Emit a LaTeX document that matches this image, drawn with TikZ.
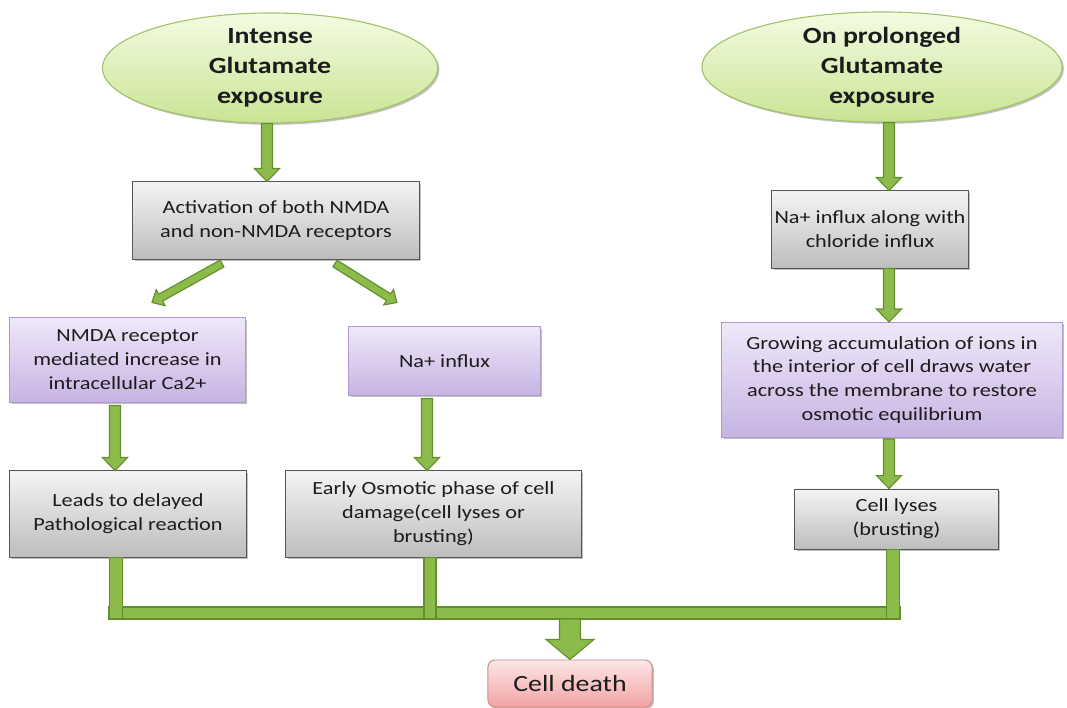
\documentclass[tikz,border=0pt]{standalone}
\usepackage{fontspec}
\setmainfont{Carlito}[FakeStretch=1.2]
\usetikzlibrary{calc,shapes.geometric,shadows}
\definecolor{arrF}{HTML}{8CBB4B}
\definecolor{arrD}{HTML}{618F2C}
\definecolor{txt}{HTML}{1C1C1C}
\definecolor{gTop}{HTML}{F4F4F4}
\definecolor{gBot}{HTML}{BDBDBD}
\definecolor{gLine}{HTML}{555555}
\definecolor{pTop}{HTML}{EFE8F9}
\definecolor{pBot}{HTML}{C7B3E3}
\definecolor{pLine}{HTML}{AE9ACF}
\definecolor{eTop}{HTML}{F4FBE2}
\definecolor{eBot}{HTML}{C9E494}
\definecolor{eLine}{HTML}{A2C36A}
\definecolor{rTop}{HTML}{FDE6E6}
\definecolor{rBot}{HTML}{F2A3A3}
\definecolor{rLine}{HTML}{D58A8A}
\newcommand\barrow[5]{%
  \path[arrowbody] let \p1=#1, \p2=#2,
    \n1={atan2(\y2-\y1,\x2-\x1)},
    \n2={veclen(\x2-\x1,\y2-\y1)-#5} in
    ($(\p1)+(\n1+90:#3)$) -- ($(\p1)+(\n1:\n2)+(\n1+90:#3)$)
    -- ($(\p1)+(\n1:\n2)+(\n1+90:#4)$) -- (\p2)
    -- ($(\p1)+(\n1:\n2)+(\n1-90:#4)$) -- ($(\p1)+(\n1:\n2)+(\n1-90:#3)$)
    -- ($(\p1)+(\n1-90:#3)$) -- cycle;}
\newcommand\sarrow[2]{\barrow{#1}{#2}{3.9pt}{8.9pt}{9.2pt}}
\newcommand\darrow[2]{\barrow{#1}{#2}{2.8pt}{6.5pt}{7pt}}
\begin{document}
\begin{tikzpicture}[x=0.025cm,y=-0.025cm,
  arrowbody/.style={fill=arrF,draw=arrD,line width=0.8pt,line join=miter},
  bar/.style={fill=arrF,draw=arrD,line width=0.8pt},
  boxfont/.style={font=\fontsize{13.2}{17}\selectfont},
  shadowed/.style={drop shadow={shadow xshift=1.3pt,shadow yshift=-1.3pt,opacity=0.35,fill=black!70}},
  gbox/.style={rectangle,draw=gLine,line width=0.7pt,top color=gTop,bottom color=gBot,
    align=center,text=txt,inner sep=2pt,boxfont,shadowed},
  pbox/.style={rectangle,draw=pLine,line width=0.7pt,top color=pTop,bottom color=pBot,
    align=center,text=txt,inner sep=2pt,boxfont,shadowed},
  ell/.style={ellipse,draw=eLine,line width=0.8pt,top color=eTop,bottom color=eBot,inner sep=0pt,shadowed},
  elltext/.style={align=center,text=txt,font=\bfseries\fontsize{16.5}{21.3}\selectfont},
  death/.style={rectangle,rounded corners=5pt,draw=rLine,line width=0.7pt,top color=rTop,bottom color=rBot,
    align=center,text=txt,font=\fontsize{16.5}{20}\selectfont,shadowed}]
\useasboundingbox (0,0) rectangle (1067,708);

% ellipses
\node[ell,minimum width=8.375cm,minimum height=2.75cm] (E1) at (270,68) {};
\node[elltext] (E1t) at (E1.center) {Intense\\Glutamate\\exposure};
\node[ell,minimum width=9.0cm,minimum height=2.75cm] (E2) at (882,67) {};
\node[elltext] (E2t) at (E2.center) {On prolonged\\Glutamate\\exposure};

% boxes
\node[gbox,minimum width=7.15cm,minimum height=1.925cm] (A) at (276,220.5) {Activation of both NMDA\\and non-NMDA receptors};
\node[gbox,minimum width=4.7cm,minimum height=1.925cm] (B) at (870,229.5) {Na+ influx along with\\chloride influx};
\node[pbox,minimum width=5.875cm,minimum height=2.1cm] (C) at (127.5,360) {NMDA receptor\\mediated increase in\\intracellular Ca2+};
\node[pbox,minimum width=4.775cm,minimum height=1.7cm] (D) at (444.5,361) {Na+ influx};
\node[pbox,minimum width=8.5cm,minimum height=2.875cm] (E) at (892,380) {Growing accumulation of ions in\\the interior of cell draws water\\across the membrane to restore\\osmotic equilibrium};
\node[gbox,minimum width=5.9cm,minimum height=2.15cm] (F) at (128,514) {Leads to delayed\\Pathological reaction};
\node[gbox,minimum width=7.375cm,minimum height=2.15cm] (G) at (433.5,514) {Early Osmotic phase of cell\\damage(cell lyses or\\brusting)};
\node[gbox,minimum width=5.075cm,minimum height=1.5cm] (H) at (896.5,519) {Cell lyses\\(brusting)};
\node[death,minimum width=4.1cm,minimum height=1.175cm] (I) at (570,683.5) {Cell death};

% helper coordinates
\coordinate (e1s) at ($(E1.south)+(-3,0)$);
\coordinate (e2s) at ($(E2.south)+(7,0)$);
\coordinate (bs) at (e2s |- B.south);
\coordinate (ac1) at ($(A.south)+(-54,4)$);
\coordinate (ac2) at ($(C.north)+(24.5,-15)$);
\coordinate (ad1) at ($(A.south)+(59,4)$);
\coordinate (ad2) at ($(D.north)+(-47.5,-24)$);
\coordinate (cs) at ($(C.south)+(-12.5,3)$);
\coordinate (ds) at ($(D.south)+(-17.5,3)$);
\coordinate (es) at ($(E.south)+(-3,1)$);

% arrows
\sarrow{(e1s)}{(e1s |- A.north)}
\sarrow{(e2s)}{(e2s |- B.north)}
\darrow{(ac1)}{(ac2)}
\darrow{(ad1)}{(ad2)}
\sarrow{(bs)}{(bs |- E.north)}
\sarrow{(cs)}{(cs |- F.north)}
\sarrow{(ds)}{(ds |- G.north)}
\sarrow{(es)}{(es |- H.north)}

% collecting bar
\coordinate (barT) at (0,607);
\coordinate (barB) at (0,619);
\coordinate (fL) at ($(F.south)+(-12,0)$);
\coordinate (gL) at ($(G.south)+(-3.5,0)$);
\coordinate (hL) at ($(H.south)+(-3.5,0)$);
\draw[bar] ($(fL |- barT)+(-7,0)$) rectangle ($(hL |- barB)+(7,0)$);
\draw[bar] ($(fL)+(-6.5,0)$) rectangle ($(fL |- barB)+(6.5,0)$);
\draw[bar] ($(gL)+(-6,0)$) rectangle ($(gL |- barB)+(6,0)$);
\draw[bar] ($(hL)+(-6.5,0)$) rectangle ($(hL |- barB)+(6.5,0)$);
\barrow{(I.north |- barB)}{(I.north)}{7.5pt}{17pt}{14.2pt}
\end{tikzpicture}
\end{document}
